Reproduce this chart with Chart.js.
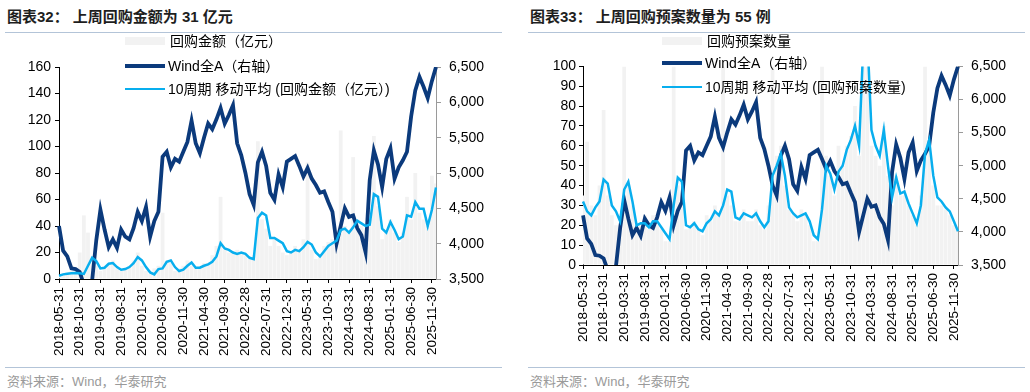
<!DOCTYPE html>
<html lang="zh">
<head>
  <meta charset="UTF-8" />
  <script src="https://cdn.jsdelivr.net/npm/chart.js"></script>
  <title>回购</title>
  <style>
    * { padding: 0; margin: 0; }
    body {
      width: 1030px;
      height: 392px;
      position: relative;
      overflow: hidden;
      background: #fff;
      font-family: "Liberation Sans", "Noto Sans CJK SC", sans-serif;
      color: #000;
    }
    .title {
      position: absolute;
      top: 5px;
      font-size: 15px;
      font-weight: bold;
      color: #1e1e1e;
      white-space: nowrap;
    }
    .rule {
      position: absolute;
      height: 1px;
      width: 497px;
      background: #b3c4d8;
    }
    canvas { position: absolute; top: 50px; }
    .legend { position: absolute; white-space: nowrap; font-size: 14px; }
    .legend .row { position: absolute; left: 0; height: 20px; }
    .legend .mark { position: absolute; left: 0; width: 40px; }
    .legend .txt { position: absolute; top: 0; line-height: 20px; }
    .source {
      position: absolute;
      top: 371px;
      font-size: 13px;
      color: #9a9a9a;
      white-space: nowrap;
    }
  </style>
</head>

<body>
  <div class="title" style="left:7px">图表32：&nbsp;上周回购金额为 31 亿元</div>
  <div class="title" style="left:530px">图表33：&nbsp;上周回购预案数量为 55 例</div>
  <div class="rule" style="left:5px;top:32px"></div>
  <div class="rule" style="left:528px;top:32px"></div>

  <canvas id="amountChart" width="515" height="315" style="left:0"></canvas>
  <canvas id="countChart" width="515" height="315" style="left:515px"></canvas>

  <div class="legend" id="legendLeft" style="left:125px;top:0"></div>
  <div class="legend" id="legendRight" style="left:662px;top:0"></div>

  <div class="rule" style="left:5px;top:367px"></div>
  <div class="rule" style="left:528px;top:367px"></div>
  <div class="source" style="left:7px">资料来源：Wind，华泰研究</div>
  <div class="source" style="left:530px">资料来源：Wind，华泰研究</div>

<script>
  // month-end categories, 2018-05 .. 2025-12
  const months = [];
  for (let i = 0; i < 92; i++) {
    const d = new Date(2018, 4 + i + 1, 0);
    months.push(d.getFullYear() + '-' + String(d.getMonth() + 1).padStart(2, '0') + '-' + String(d.getDate()).padStart(2, '0'));
  }

  const tickLabels = ['2018-05-31', '2018-10-31', '2019-03-31', '2019-08-31', '2020-01-31', '2020-06-30',
    '2020-11-30', '2021-04-30', '2021-09-30', '2022-02-28', '2022-07-31', '2022-12-31', '2023-05-31',
    '2023-10-31', '2024-03-31', '2024-08-31', '2025-01-31', '2025-06-30', '2025-11-30'];

  // Wind全A (right axis), shared by both charts
  const windA = [
    4250, 3900, 3820, 3650, 3640, 3600, 3420, 3330, 3480, 4050,
    4480, 4200, 3950, 4060, 3940, 4200, 4100, 4060, 4220, 4450,
    4320, 4520, 4100, 4320, 4450, 5230, 5300, 5080, 5200, 5160,
    5300, 5440, 5740, 5420, 5280, 5500, 5700, 5620, 5760, 5920,
    5700, 5820, 5960, 5420, 5250, 5000, 4700, 4550, 5150, 5300,
    5100, 4720, 4620, 4980, 4800, 5160, 5200, 5240, 5100, 4950,
    5070, 4920, 4830, 4720, 4740, 4590, 4450, 4000, 4250, 4500,
    4380, 4400, 4220, 4120, 3880, 4900, 5320, 5120, 4800, 5200,
    5350, 4920, 5080, 5180, 5300, 5800, 6170, 6360, 6220, 6060,
    6300, 6500
  ];

  // 回购金额（亿元）
  const amountBars = [
    3, 4, 5, 6, 8, 20, 48, 35, 12, 10,
    6, 9, 12, 14, 8, 6, 8, 10, 14, 20,
    10, 6, 4, 8, 10, 50, 14, 12, 6, 8,
    10, 14, 10, 8, 9, 12, 12, 18, 25, 62,
    22, 20, 20, 22, 20, 18, 15, 18, 104, 45,
    38, 25, 30, 25, 20, 18, 20, 25, 22, 30,
    88, 22, 15, 18, 25, 28, 30, 35, 112, 40,
    35, 92, 45, 40, 38, 45, 108, 55, 30, 35,
    45, 35, 28, 35, 62, 45, 80, 50, 45, 40,
    78, 72
  ];
  const amountMA = [
    2.5, 3.5, 4, 4.3, 4.5, 4.3, 3.8, 10, 16, 13.5,
    8, 8.5, 11.5, 12, 9, 7, 7.5, 9, 12, 16.5,
    14, 9, 5, 3.5, 7.5, 8, 13, 14, 9, 6,
    7, 10, 12.5, 8.5, 8.5, 10, 11, 13, 17, 27,
    23, 22, 20, 19, 20, 19, 16, 15, 46, 50,
    48, 31, 31, 29, 27, 21, 20, 22, 21, 24,
    28, 26, 20, 17, 21, 25, 27, 29, 37, 38,
    35, 39, 44, 42, 40, 41, 64, 62, 38, 35,
    43, 37, 30, 32, 48, 47, 58, 53, 53, 40,
    52, 69
  ];

  // 回购预案数量
  const countBars = [
    35, 62, 30, 25, 40, 78, 35, 25, 20, 20,
    100, 40, 30, 20, 20, 25, 18, 25, 20, 18,
    12, 12, 100, 40, 30, 18, 20, 22, 18, 15,
    25, 22, 30, 25, 100, 35, 30, 22, 22, 28,
    22, 22, 28, 20, 18, 30, 100, 55, 60, 40,
    28, 25, 22, 28, 25, 20, 12, 12, 100, 55,
    45, 35, 60, 50, 60, 65, 80, 55, 100, 100,
    60, 55, 50, 70, 45, 30, 45, 35, 35, 30,
    25, 20, 35, 100, 60, 40, 30, 30, 28, 25,
    20, 18
  ];
  const countMA = [
    32, 27, 25, 29, 32, 43, 41, 30, 27, 22,
    38, 42, 32, 20, 21, 21, 19, 22, 22, 19,
    16, 13, 30, 44, 42, 20, 19, 21, 18, 17,
    21, 23, 27, 25, 30, 38, 37, 24, 23, 26,
    25, 24, 26, 22, 19, 22, 45, 50, 56, 45,
    29, 26, 24, 25, 26, 22, 15, 13, 28, 50,
    46, 38, 47, 50, 58, 63, 70, 60, 110, 115,
    68, 60, 55, 68, 50, 34, 44, 36, 37, 31,
    26, 21, 30, 56, 63, 45, 34, 32, 29, 27,
    22, 17
  ];

  const darkBlue = '#0b3a7c';
  const lightBlue = '#08aeee';
  const barGray = '#f2f2f2';
  const fontFamily = '"Liberation Sans", "Noto Sans CJK SC", sans-serif';

  function buildChart(id, cfg) {
    return new Chart(document.getElementById(id), {
      type: 'bar',
      data: {
        labels: months,
        datasets: [
          {
            type: 'line', label: cfg.maLabel, data: cfg.ma, yAxisID: 'y',
            borderColor: lightBlue, borderWidth: 2.5, pointRadius: 0, tension: 0, order: 0
          }, {
            type: 'line', label: 'Wind全A（右轴）', data: windA, yAxisID: 'y1',
            borderColor: darkBlue, borderWidth: 3.8, pointRadius: 0, tension: 0, order: 1
          }, {
            type: 'bar', label: cfg.barLabel, data: cfg.bars, yAxisID: 'y',
            backgroundColor: barGray, barPercentage: 0.9, categoryPercentage: 1, order: 2
          }
        ]
      },
      options: {
        responsive: false,
        animation: false,
        devicePixelRatio: 1,
        layout: { padding: { top: cfg.padTop, left: 0, right: 0, bottom: 0 } },
        plugins: { legend: { display: false }, tooltip: { enabled: false } },
        scales: {
          x: {
            offset: false,
            grid: { drawOnChartArea: false, drawTicks: true, tickLength: 4, color: '#000', offset: false },
            border: { display: true, color: '#000' },
            ticks: {
              autoSkip: false, maxRotation: 90, minRotation: 90, padding: 4, color: '#000',
              font: { family: fontFamily, size: 13.5 },
              callback: function (value, index) {
                return tickLabels.includes(months[index]) ? months[index] : null;
              }
            },
            afterFit: function (scale) { scale.height = cfg.xHeight; }
          },
          y: {
            position: 'left', min: 0, max: cfg.yMax,
            grid: { drawOnChartArea: false, tickLength: 4, color: '#000' },
            border: { display: true, color: '#000' },
            ticks: { stepSize: cfg.yStep, padding: cfg.yPad, color: '#000', font: { family: fontFamily, size: 14 } },
            afterFit: function (scale) { scale.width = cfg.yWidth; }
          },
          y1: {
            position: 'right', min: 3500, max: 6500,
            grid: { drawOnChartArea: false, tickLength: 5, color: '#9a9a9a' },
            border: { display: true, color: '#9a9a9a' },
            ticks: {
              stepSize: 500, padding: 8, color: '#000', font: { family: fontFamily, size: 14 },
              callback: function (value) { return value.toLocaleString('en-US'); }
            },
            afterFit: function (scale) { scale.width = cfg.y1Width; }
          }
        }
      }
    });
  }

  const amountChart = buildChart('amountChart', {
    barLabel: '回购金额（亿元）', maLabel: '10周期 移动平均 (回购金额（亿元）)',
    bars: amountBars, ma: amountMA, yMax: 160, yStep: 20,
    padTop: 17, xHeight: 86, yWidth: 59, y1Width: 79, yPad: 4
  });

  const countChart = buildChart('countChart', {
    barLabel: '回购预案数量', maLabel: '10周期 移动平均 (回购预案数量)',
    bars: countBars, ma: countMA, yMax: 100, yStep: 10,
    padTop: 16, xHeight: 100, yWidth: 68, y1Width: 72, yPad: 3
  });

  // legend drawn over the plot, one row per dataset
  function buildLegend(el, chart, rowsTop) {
    const ds = chart.data.datasets;
    const rows = [ds[2], ds[1], ds[0]];
    let html = '';
    rows.forEach(function (d, i) {
      const top = rowsTop[i];
      let mark;
      if (d.type === 'bar') {
        mark = '<span class="mark" style="top:6px;height:8px;background:' + barGray + '"></span>';
      } else {
        const h = d.borderWidth;
        mark = '<span class="mark" style="top:' + (10 - h / 2) + 'px;height:' + h + 'px;background:' + d.borderColor + '"></span>';
      }
      html += '<div class="row" style="top:' + top + 'px">' + mark +
        '<span class="txt" style="left:' + (i === 0 ? 45 : 43) + 'px">' + d.label + '</span></div>';
    });
    el.innerHTML = html;
  }

  buildLegend(document.getElementById('legendLeft'), amountChart, [31, 56, 79]);
  buildLegend(document.getElementById('legendRight'), countChart, [31, 53, 77]);
</script>
</body>
</html>
